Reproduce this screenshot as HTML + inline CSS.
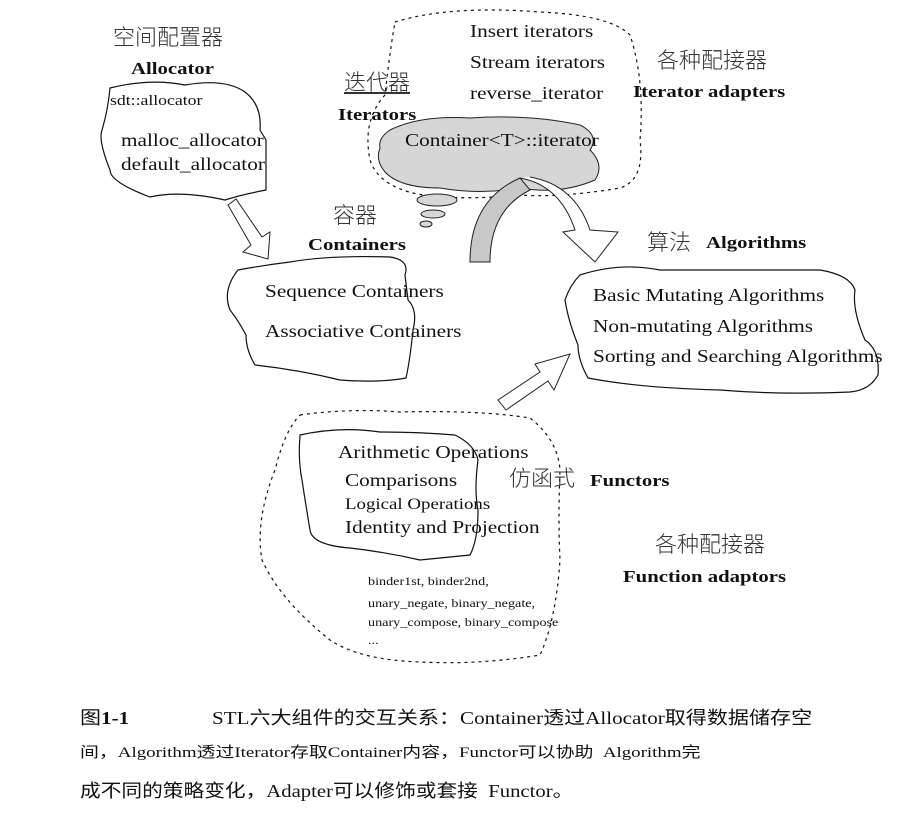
<!DOCTYPE html>
<html><head><meta charset="utf-8"><style>
body{margin:0;width:911px;height:817px;background:#fff;position:relative;overflow:hidden;font-family:"Liberation Serif","Noto Serif CJK SC",serif;color:#111}
.t{position:absolute;white-space:nowrap;line-height:1;transform:scaleX(1.18);transform-origin:0 0}
.b{font-weight:bold;transform:scaleX(1.22)}
.c{font-family:"Liberation Serif","Noto Sans CJK SC",sans-serif;font-weight:300;color:#333;transform:none}
.cap{font-family:"Liberation Serif","Noto Sans CJK SC",sans-serif;color:#111;transform:scaleX(1.17)}
svg{position:absolute;left:0;top:0}
</style></head><body>
<svg width="911" height="817" viewBox="0 0 911 817">
<g fill="none" stroke="#111" stroke-width="1.2">
<path d="M110,88 Q150,78 185,85 Q225,78 245,92 Q262,105 260,130 L266,140 L266,190 Q240,195 225,200 Q180,190 150,197 Q110,182 110,170 Q98,140 102,130 Q108,110 110,88Z"/>
<path d="M238,270 Q265,265 290,262 Q330,255 390,257 Q410,260 405,275 L408,300 Q418,310 413,330 Q410,360 406,378 Q380,383 340,380 Q300,370 255,365 Q246,350 246,335 Q238,320 230,310 Q222,290 238,270Z"/>
<path d="M580,275 Q620,262 660,270 Q740,270 820,270 Q850,275 855,290 Q852,310 865,340 Q880,350 878,375 Q870,390 850,392 Q780,395 720,390 Q640,388 588,378 Q578,360 578,345 Q568,320 565,300 Q570,285 580,275Z"/>
<path d="M300,435 Q340,426 380,432 Q420,432 455,435 Q475,445 478,460 Q474,490 478,510 Q478,540 470,555 Q440,558 420,560 Q385,552 350,548 Q312,545 310,530 Q305,500 302,480 Q298,460 300,435Z"/>
</g>
<g fill="none" stroke="#111" stroke-width="1.2" stroke-dasharray="3,4">
<path d="M395,22 Q450,5 540,12 Q610,15 630,35 Q645,80 640,140 Q645,180 620,188 Q560,198 520,195 Q470,200 430,196 Q380,190 370,160 Q362,120 385,95 Q390,50 395,22Z"/>
<path d="M300,415 Q350,408 400,412 Q480,410 530,418 Q558,440 560,470 Q558,520 560,560 Q556,620 540,655 Q480,665 420,662 Q360,660 330,640 Q280,600 262,560 Q255,520 275,470 Q285,430 300,415Z"/>
</g>
<path d="M390,130 Q420,115 470,118 Q530,114 580,125 Q600,135 590,150 Q605,165 595,180 Q560,195 520,188 Q480,195 440,188 Q400,188 385,172 Q375,160 380,148 Q378,138 390,130Z" fill="#d6d6d6" stroke="#222" stroke-width="1"/>
<g fill="#d6d6d6" stroke="#222" stroke-width="1">
<ellipse cx="437" cy="200" rx="20" ry="6"/><ellipse cx="433" cy="214" rx="12" ry="4"/><ellipse cx="426" cy="224" rx="6" ry="3"/>
</g>
<path d="M470,262 Q470,200 520,178 L530,190 Q490,210 490,262Z" fill="#c8c8c8" stroke="#222"/>
<path d="M520,178 Q560,185 575,230 L563,232 L595,262 L618,232 L590,230 Q575,185 530,177" fill="#fff" stroke="#222"/>
<path d="M228,205 L236,199 L262,237 L270,232 L268,259 L243,252 L251,245 Z" fill="#fff" stroke="#222"/>
<path d="M498,400 L540,372 L535,364 L570,354 L554,390 L548,381 L506,410 Z" fill="#fff" stroke="#222"/>
</svg>
<div class="t c" style="left:113px;top:27px;font-size:22px">空间配置器</div>
<div class="t b" style="left:131px;top:60px;font-size:17px">Allocator</div>
<div class="t" style="left:110px;top:94px;font-size:15px">sdt::allocator</div>
<div class="t" style="left:121px;top:131px;font-size:18px">malloc_allocator</div>
<div class="t" style="left:121px;top:155px;font-size:18px">default_allocator</div>
<div class="t c" style="left:344px;top:72px;font-size:22px;text-decoration:underline">迭代器</div>
<div class="t b" style="left:338px;top:106px;font-size:17px">Iterators</div>
<div class="t" style="left:470px;top:22px;font-size:18px">Insert iterators</div>
<div class="t" style="left:470px;top:53px;font-size:18px">Stream iterators</div>
<div class="t" style="left:470px;top:84px;font-size:18px">reverse_iterator</div>
<div class="t" style="left:405px;top:131px;font-size:18px">Container&lt;T&gt;::iterator</div>
<div class="t c" style="left:657px;top:50px;font-size:22px">各种配接器</div>
<div class="t b" style="left:633px;top:83px;font-size:17px">Iterator adapters</div>
<div class="t c" style="left:333px;top:205px;font-size:22px">容器</div>
<div class="t b" style="left:308px;top:236px;font-size:17px">Containers</div>
<div class="t" style="left:265px;top:282px;font-size:18px">Sequence Containers</div>
<div class="t" style="left:265px;top:322px;font-size:18px">Associative Containers</div>
<div class="t c" style="left:647px;top:232px;font-size:22px">算法</div>
<div class="t b" style="left:706px;top:234px;font-size:17px">Algorithms</div>
<div class="t" style="left:593px;top:286px;font-size:18px">Basic Mutating Algorithms</div>
<div class="t" style="left:593px;top:317px;font-size:18px">Non-mutating Algorithms</div>
<div class="t" style="left:593px;top:347px;font-size:18px">Sorting and Searching Algorithms</div>
<div class="t" style="left:338px;top:443px;font-size:18px">Arithmetic Operations</div>
<div class="t" style="left:345px;top:471px;font-size:18px">Comparisons</div>
<div class="t" style="left:345px;top:497px;font-size:16px">Logical Operations</div>
<div class="t" style="left:345px;top:518px;font-size:18px">Identity and Projection</div>
<div class="t c" style="left:509px;top:468px;font-size:22px">仿函式</div>
<div class="t b" style="left:590px;top:472px;font-size:17px">Functors</div>
<div class="t c" style="left:655px;top:534px;font-size:22px">各种配接器</div>
<div class="t b" style="left:623px;top:568px;font-size:17px">Function adaptors</div>
<div class="t" style="left:368px;top:575px;font-size:12px">binder1st, binder2nd,</div>
<div class="t" style="left:368px;top:597px;font-size:12px">unary_negate, binary_negate,</div>
<div class="t" style="left:368px;top:616px;font-size:12px">unary_compose, binary_compose</div>
<div class="t" style="left:368px;top:634px;font-size:12px">...</div>
<div class="t cap" style="left:80px;top:709px;font-size:18px">图<b style="font-family:'Liberation Serif'">1-1</b></div>
<div class="t cap" style="left:212px;top:709px;font-size:18px">STL六大组件的交互关系：Container透过Allocator取得数据储存空</div>
<div class="t cap" style="left:80px;top:746px;font-size:15px;transform:scaleX(1.26)">间，Algorithm透过Iterator存取Container内容，Functor可以协助&nbsp; Algorithm完</div>
<div class="t cap" style="left:80px;top:782px;font-size:18px;transform:scaleX(1.15)">成不同的策略变化，Adapter可以修饰或套接&nbsp; Functor。</div>
</body></html>
